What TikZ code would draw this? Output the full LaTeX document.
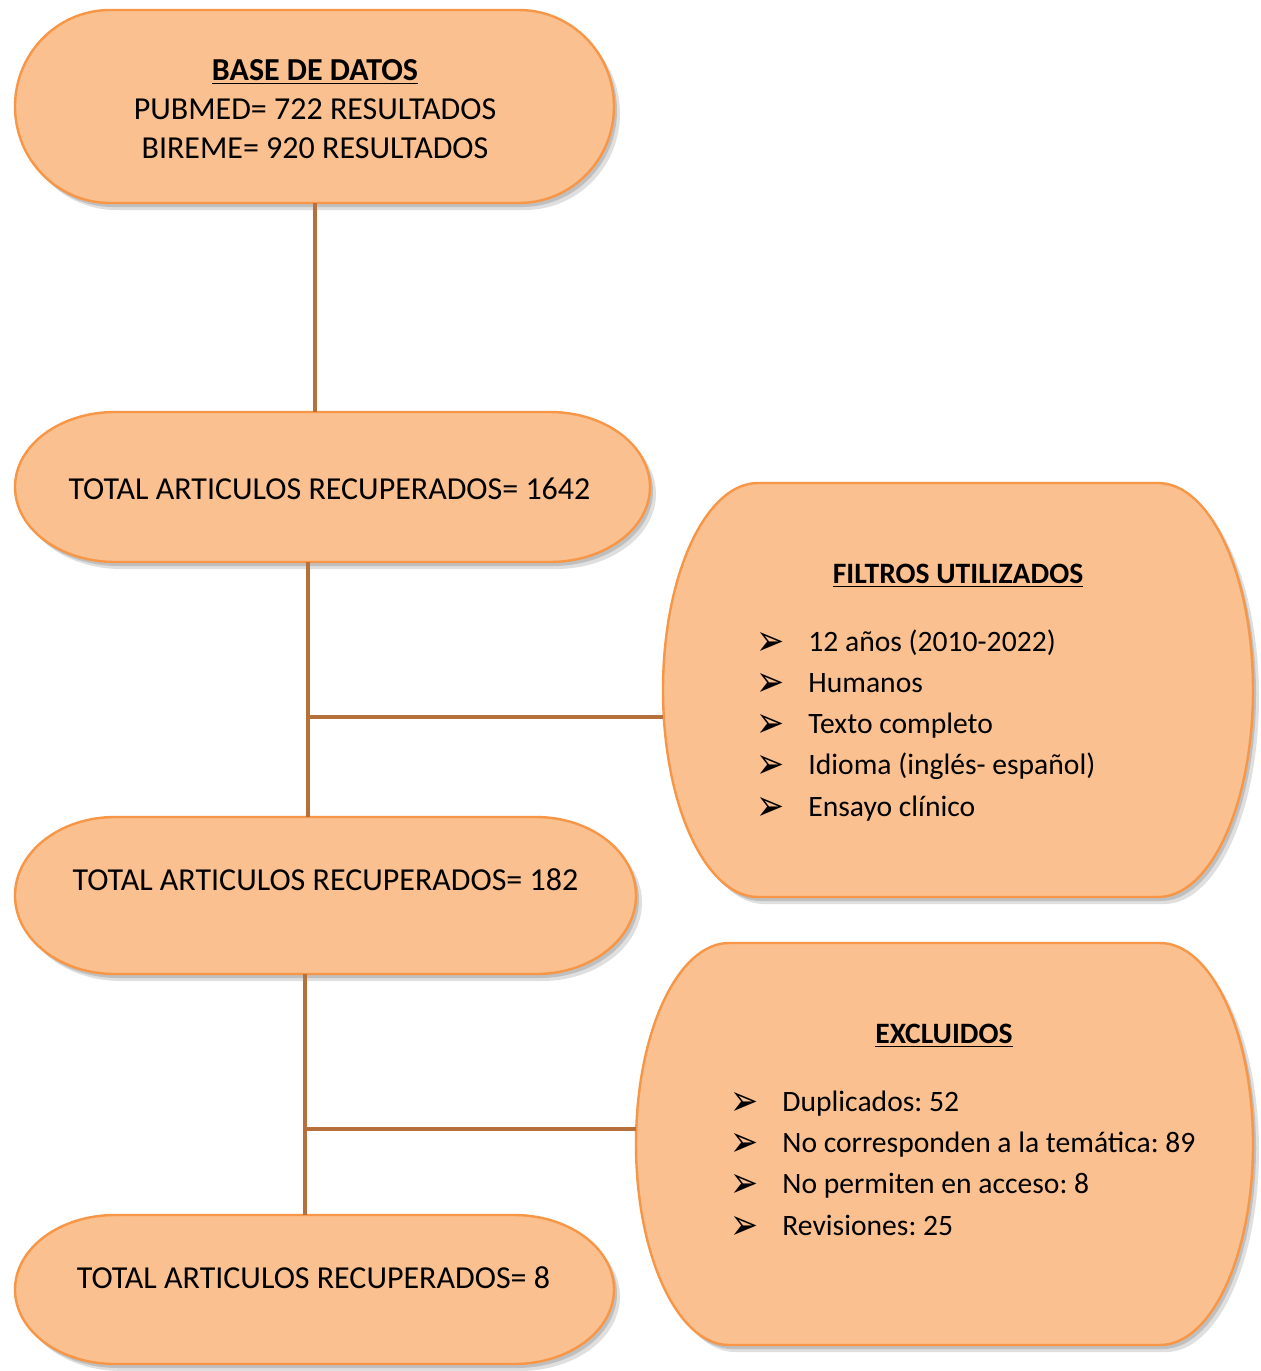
\documentclass[tikz,border=0pt]{standalone}
\usepackage{fontspec}
\usepackage{graphicx}
\setmainfont{Carlito}
\newfontfamily\dejavu{DejaVu Sans}
\usetikzlibrary{fit}
\frenchspacing
\definecolor{boxfill}{HTML}{FAC090}
\definecolor{boxline}{HTML}{F79646}
\definecolor{linkc}{HTML}{B5703B}
\definecolor{shadowc}{HTML}{A6A6A6}
\newcommand\arrbul{\scalebox{1.05}[1.35]{➢}}
\tikzset{
  boxsh/.style={fill=shadowc, opacity=0.55},
  boxst/.style={fill=boxfill, draw=boxline, line width=1.2pt},
  link/.style={draw=linkc, line width=2.2pt},
  txt/.style={inner sep=0pt, anchor=base, font=\fontsize{16pt}{19.5pt}\selectfont\frenchspacing},
  ttl/.style={txt, font=\fontsize{16pt}{19.5pt}\selectfont\bfseries},
  rttl/.style={txt, font=\fontsize{14.8pt}{18pt}\selectfont\bfseries},
  itm/.style={inner sep=0pt, anchor=base west, font=\fontsize{14.8pt}{18pt}\selectfont\frenchspacing},
  bul/.style={inner sep=0pt, anchor=center, font=\dejavu\fontsize{16pt}{18pt}\selectfont},
}
\newcommand\ovpath[5]{(#1,#2+\ryy) arc[start angle=180,end angle=90,x radius=#5*0.5pt,y radius=\ryy*0.5pt] -- (#3-#5,#2) arc[start angle=90,end angle=0,x radius=#5*0.5pt,y radius=\ryy*0.5pt] -- (#3,#4-\ryy) arc[start angle=0,end angle=-90,x radius=#5*0.5pt,y radius=\ryy*0.5pt] -- (#1+#5,#4) arc[start angle=-90,end angle=-180,x radius=#5*0.5pt,y radius=\ryy*0.5pt] -- cycle}
\newcommand\ovbox[6]{%
  \path (#2,#3) coordinate (#1-nw) (#4,#5) coordinate (#1-se);
  \node[inner sep=0pt, fit=(#1-nw)(#1-se)] (#1) {};
  \pgfmathsetmacro\ryy{(#5-#3)/2}
  \begin{scope}[shift={(6,7)}]
    \fill[boxsh, opacity=0.35] \ovpath{#2}{#3}{#4}{#5}{#6};
  \end{scope}
  \begin{scope}[shift={(3,4)}]
    \fill[boxsh] \ovpath{#2}{#3}{#4}{#5}{#6};
  \end{scope}
  \filldraw[boxst] \ovpath{#2}{#3}{#4}{#5}{#6};
}
\begin{document}
\begin{tikzpicture}[x=0.5pt,y=-0.5pt]
\useasboundingbox (0,0) rectangle (1261,1371);
\fill[white] (0,0) rectangle (1261,1371);
% boxes
\ovbox{b1}{15}{10}{614}{203}{95}
\ovbox{b2}{15}{412}{650}{562}{100}
\ovbox{b3}{15}{817}{636}{974}{100}
\ovbox{b4}{15}{1215}{614}{1364}{100}
\ovbox{f}{663}{483}{1253}{897}{95}
\ovbox{e}{636}{943}{1253}{1345}{93}
% connectors
\coordinate (j0) at (315,300);
\coordinate (j1) at (308,717);
\coordinate (j2) at (305,1129);
\draw[link] (j0 |- b1.south) -- (j0 |- b2.north);
\draw[link] (j1 |- b2.south) -- (j1 |- b3.north);
\draw[link] (j1) -- (j1 -| f.west);
\draw[link] (j2 |- b3.south) -- (j2 |- b4.north);
\draw[link] (j2) -- (j2 -| e.west);
% texts left boxes
\node[ttl] (t1a) at (315,80) {\underline{BASE DE DATOS}};
\node[txt] (t1b) at (315,119) {PUBMED= 722 RESULTADOS};
\node[txt] (t1c) at (315,158) {BIREME= 920 RESULTADOS};
\node[txt] (t2) at (329.5,499) {TOTAL ARTICULOS RECUPERADOS= 1642};
\node[txt] (t3) at (325.5,890) {TOTAL ARTICULOS RECUPERADOS= 182};
\node[txt] (t4) at (313.5,1288) {TOTAL ARTICULOS RECUPERADOS= 8};
% filtros
\node[rttl] (ft) at (958,583) {\underline{FILTROS UTILIZADOS}};
\node[bul] (fb1) at (771,644) {\arrbul};
\node[itm] (fi1) at (808,651) {12 años (2010-2022)};
\node[bul] (fb2) at (771,685) {\arrbul};
\node[itm] (fi2) at (808,692) {Humanos};
\node[bul] (fb3) at (771,726) {\arrbul};
\node[itm] (fi3) at (808,733) {Texto completo};
\node[bul] (fb4) at (771,767) {\arrbul};
\node[itm] (fi4) at (808,774) {Idioma (inglés- español)};
\node[bul] (fb5) at (771,809) {\arrbul};
\node[itm] (fi5) at (808,816) {Ensayo clínico};
% excluidos
\node[rttl] (et) at (944,1043) {\underline{EXCLUIDOS}};
\node[bul] (eb1) at (745,1104) {\arrbul};
\node[itm] (ei1) at (782,1111) {Duplicados: 52};
\node[bul] (eb2) at (745,1145) {\arrbul};
\node[itm] (ei2) at (782,1152) {No corresponden a la temática: 89};
\node[bul] (eb3) at (745,1186) {\arrbul};
\node[itm] (ei3) at (782,1193) {No permiten en acceso: 8};
\node[bul] (eb4) at (745,1228) {\arrbul};
\node[itm] (ei4) at (782,1235) {Revisiones: 25};
\end{tikzpicture}
\end{document}
